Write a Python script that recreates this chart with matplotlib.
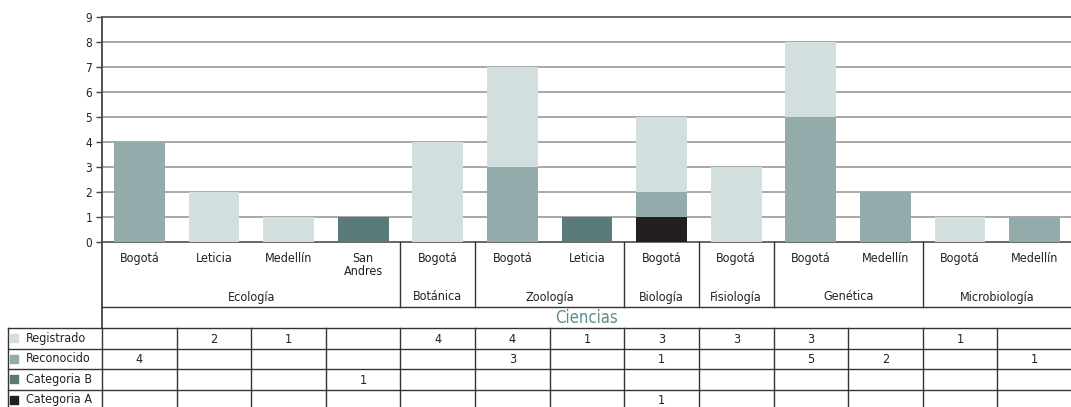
import matplotlib.pyplot as plt
import numpy as np

plt.rcParams['font.family'] = ['DejaVu Sans']
plt.rcParams['font.stretch'] = 'condensed'
plt.rcParams['text.color'] = '#222222'

# categories (one bar each) and their groups
places = ["Bogotá", "Leticia", "Medellín", "San\nAndres", "Bogotá", "Bogotá", "Leticia",
          "Bogotá", "Bogotá", "Bogotá", "Medellín", "Bogotá", "Medellín"]
groups = ["Ecología", "Botánica", "Zoología", "Biología", "Fisiología", "Genética", "Microbiología"]
group_sizes = [4, 1, 2, 1, 1, 2, 2]
axis_title = "Ciencias"

# bar values as drawn
series = ["Registrado", "Reconocido", "Categoria B", "Categoria A"]
registrado = [0, 2, 1, 0, 4, 4, 0, 3, 3, 3, 0, 1, 0]
reconocido = [4, 0, 0, 0, 0, 3, 0, 1, 0, 5, 2, 0, 1]
categoria_b = [0, 0, 0, 1, 0, 0, 1, 0, 0, 0, 0, 0, 0]
categoria_a = [0, 0, 0, 0, 0, 0, 0, 1, 0, 0, 0, 0, 0]

# data table text as printed below the chart
table_registrado = ["", "2", "1", "", "4", "4", "1", "3", "3", "3", "", "1", ""]
table_reconocido = ["4", "", "", "", "", "3", "", "1", "", "5", "2", "", "1"]
table_categoria_b = ["", "", "", "1", "", "", "", "", "", "", "", "", ""]
table_categoria_a = ["", "", "", "", "", "", "", "1", "", "", "", "", ""]

colors = ["#d3dfdf", "#93acab", "#5b7b7a", "#231f20"]

W, H = 1071, 407
fig = plt.figure(figsize=(W / 100, H / 100), dpi=100)

# pixel layout
x_left, x_right = 102, 1072
y_top, y_zero = 17, 242
ax = fig.add_axes([x_left / W, (H - y_zero) / H, (x_right - x_left) / W, (y_zero - y_top) / H])

x = np.arange(len(places))
bottom = np.zeros(len(places))
stack = [categoria_a, categoria_b, reconocido, registrado]
stack_colors = colors[::-1]
for vals, col in zip(stack, stack_colors):
    vals = np.array(vals, dtype=float)
    ax.bar(x, vals, width=0.68, bottom=bottom, color=col, zorder=3)
    bottom += vals

ax.set_xlim(-0.5, len(places) - 0.5)
ax.set_ylim(0, 9)
ax.set_yticks(range(10))
ax.set_xticks([])
ax.tick_params(axis='y', labelsize=8.5, length=4, color='#444444', pad=3, width=1,
               labelcolor='#222222')
for yv in range(1, 9):
    ax.axhline(yv, color='#9a9a9a', lw=1.2, zorder=1)
ax.spines['right'].set_visible(False)
for s in ['top', 'bottom']:
    ax.spines[s].set_color('#5a5a5a')
    ax.spines[s].set_linewidth(1.3)
ax.spines['left'].set_color('#444444')
ax.spines['left'].set_linewidth(1.3)

# lower area: category axis + data table, y in pixels below the zero line
tx = fig.add_axes([x_left / W, 0, (x_right - x_left) / W, (H - y_zero) / H])
tx.set_xlim(-0.5, len(places) - 0.5)
tx.set_ylim(H - y_zero, 0)
tx.axis('off')

slot = (x_right - x_left) / len(places)
x0 = -0.5
x_end = len(places) - 0.5
label_left = x0 - (x_left - 8) / slot
line_kw = dict(color='#333333', lw=1.0, clip_on=False)

# left axis continues down to the table
tx.plot([x0, x0], [0, 86], color='#444444', lw=1.3, clip_on=False)

# place labels and group labels
for i, p in enumerate(places):
    tx.text(i, 10, p, ha='center', va='top', fontsize=9, linespacing=1.0)
start = 0
for g, n in zip(groups, group_sizes):
    tx.text(start + (n - 1) / 2, 55, g, ha='center', va='center', fontsize=9)
    if start > 0:
        tx.plot([start - 0.5, start - 0.5], [0, 65], **line_kw)
    start += n
tx.plot([x0, x_end], [65, 65], **line_kw)
tx.text((x0 + x_end) / 2, 76, axis_title, ha='center', va='center', fontsize=12, color='#5e8c8c')

# table
rows = [table_registrado, table_reconocido, table_categoria_b, table_categoria_a]
row_top = 86
row_h = 20.5
n_rows = len(rows)
tx.plot([label_left, x_end], [row_top, row_top], **line_kw)
for r, (name, vals, col) in enumerate(zip(series, rows, colors)):
    y0 = row_top + r * row_h
    y1 = y0 + row_h
    yc = (y0 + y1) / 2
    tx.plot([label_left, x_end], [y1, y1], **line_kw)
    tx.scatter([label_left + 0.08], [yc], marker='s', s=26, color=col, clip_on=False, zorder=4)
    tx.text(label_left + 0.24, yc, name, ha='left', va='center', fontsize=9)
    for i, v in enumerate(vals):
        tx.text(i, yc + 1, v, ha='center', va='center', fontsize=9)
bot = row_top + n_rows * row_h
tx.plot([label_left, label_left], [row_top, bot], **line_kw)
for i in range(len(places)):
    tx.plot([i - 0.5, i - 0.5], [row_top, bot], **line_kw)

fig.savefig("out.png", dpi=100)
